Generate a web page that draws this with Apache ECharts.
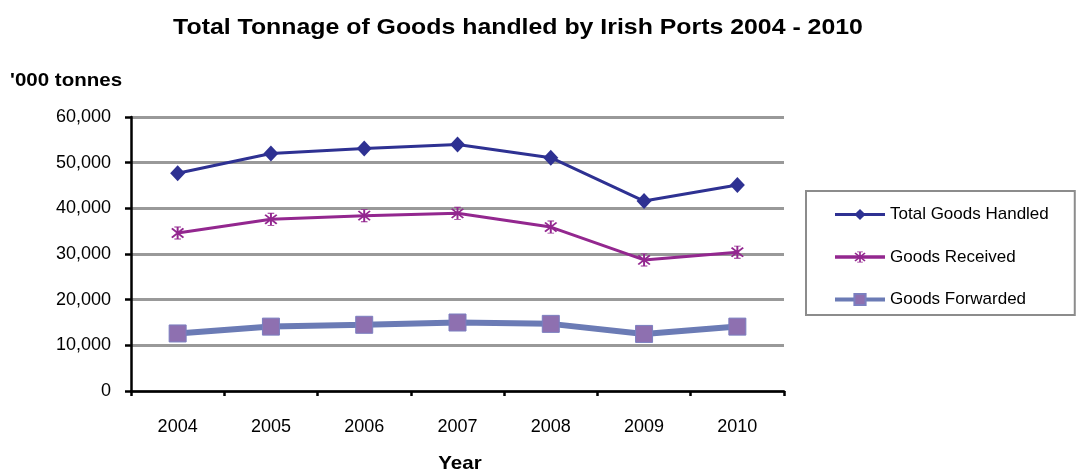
<!DOCTYPE html>
<html>
<head>
<meta charset="utf-8">
<script src="https://cdn.jsdelivr.net/npm/echarts@6/dist/echarts.min.js"></script>
<style>html,body{margin:0;padding:0;background:#fff}#c{width:1076px;height:475px}</style>
</head>
<body>
<div id="c"></div>
<script>
var years = ['2004','2005','2006','2007','2008','2009','2010'];
var totalHandled = [47700, 52000, 53100, 54000, 51100, 41600, 45100];
var goodsReceived = [34600, 37600, 38400, 38900, 35900, 28700, 30400];
var goodsForwarded = [12600, 14100, 14500, 15000, 14700, 12500, 14100];
var yTicks = [0, 10000, 20000, 30000, 40000, 50000, 60000];

var FONT = '"Liberation Sans", Arial, sans-serif';
var asterisk = 'path://M-1.2,-10L1.2,-10L1.2,10L-1.2,10Z' +
  'M-7.9,-6.2L-6.2,-7.9L7.9,6.2L6.2,7.9Z' +
  'M6.2,-7.9L7.9,-6.2L-6.2,7.9L-7.9,6.2Z' +
  'M-4,-10L4,-10L4,-8.6L-4,-8.6Z M-4,8.6L4,8.6L4,10L-4,10Z';

var chart = echarts.init(document.getElementById('c'), null, {renderer: 'canvas'});
chart.setOption({
  animation: false,
  backgroundColor: '#fff',
  textStyle: {fontFamily: FONT},
  graphic: [
    {type: 'text', x: 518, y: 28, scaleX: 1.13, z: 10,
     style: {text: 'Total Tonnage of Goods handled by Irish Ports 2004 - 2010',
       font: 'bold 22px ' + FONT, fill: '#000', textAlign: 'center', textVerticalAlign: 'middle'}},
    {type: 'text', x: 10, y: 81, scaleX: 1.08, z: 10,
     style: {text: "'000 tonnes", font: 'bold 19px ' + FONT, fill: '#000',
       textAlign: 'left', textVerticalAlign: 'middle'}},
    {type: 'text', x: 460, y: 464, scaleX: 1.08, z: 10,
     style: {text: 'Year', font: 'bold 19px ' + FONT, fill: '#000',
       textAlign: 'center', textVerticalAlign: 'middle'}}
  ],
  legend: {
    orient: 'vertical', left: 806, top: 191,
    padding: [15, 26, 7, 27],
    itemGap: 25.5, itemWidth: 50, itemHeight: 14,
    borderColor: '#8c8c8c', borderWidth: 2,
    textStyle: {fontFamily: FONT, fontSize: 17, lineHeight: 17, color: '#000'},
    data: [
      {name: 'Total Goods Handled', lineStyle: {width: 3}},
      {name: 'Goods Received', lineStyle: {width: 3.5}},
      {name: 'Goods Forwarded', lineStyle: {width: 4}}
    ]
  },
  grid: {left: 131, right: 292, top: 117, bottom: 84, containLabel: false},
  xAxis: {
    type: 'category', data: years, boundaryGap: true,
    axisLine: {lineStyle: {color: '#000', width: 2.5}},
    axisTick: {show: true, length: 5, lineStyle: {color: '#000', width: 2.5}},
    axisLabel: {margin: 27, fontFamily: FONT, fontSize: 18, color: '#000'},
    splitLine: {show: false}
  },
  yAxis: {
    type: 'value', min: yTicks[0], max: yTicks[yTicks.length - 1], interval: 10000,
    axisLine: {show: true, lineStyle: {color: '#000', width: 2.5}},
    axisTick: {show: true, length: 6, lineStyle: {color: '#000', width: 2.5}},
    axisLabel: {margin: 20, fontFamily: FONT, fontSize: 18, color: '#000',
      formatter: function (v) { return String(v).replace(/\B(?=(\d{3})+(?!\d))/g, ','); }},
    splitLine: {show: true, lineStyle: {color: '#999', width: 3}}
  },
  series: [
    {name: 'Total Goods Handled', type: 'line', data: totalHandled,
     symbol: 'diamond', symbolSize: [15, 16], z: 4,
     lineStyle: {color: '#2E3192', width: 3},
     itemStyle: {color: '#2E3192'}},
    {name: 'Goods Received', type: 'line', data: goodsReceived,
     symbol: asterisk, symbolSize: 13, z: 3,
     lineStyle: {color: '#93278F', width: 3},
     itemStyle: {color: '#93278F'}},
    {name: 'Goods Forwarded', type: 'line', data: goodsForwarded,
     symbol: 'rect', symbolSize: 17, z: 2,
     lineStyle: {color: '#6B7BB5', width: 6},
     itemStyle: {color: '#8E70B0', borderColor: '#7B7FC0', borderWidth: 1}}
  ]
});
</script>
</body>
</html>
